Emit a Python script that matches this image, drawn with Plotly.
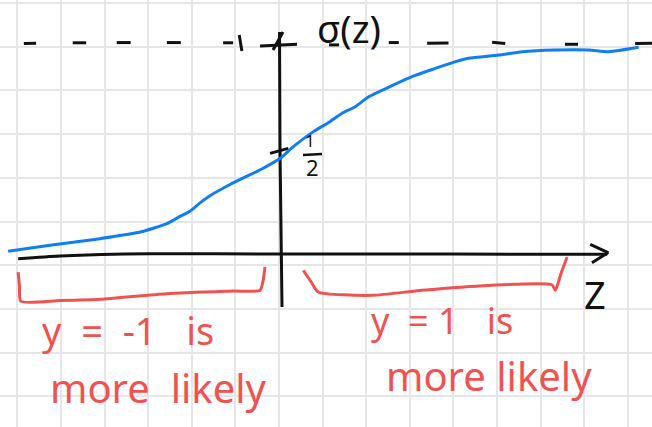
import plotly.graph_objects as go

# Sketch of the logistic function sigma(z); x in grid squares, y in sigma units
z_curve = [-6.21, -5.25, -4.10, -3.18, -2.57, -2.27, -2.04, -1.81, -1.58, -1.12,
           -0.36, 0.03, 0.33, 0.79, 1.17, 1.45, 1.75, 2.06, 2.52,
           3.05, 3.59, 4.05, 4.35, 5.04, 5.58, 6.34, 7.11, 7.56, 8.25]
sigma_curve = [0.015, 0.044, 0.075, 0.106, 0.146, 0.180, 0.205, 0.244, 0.278, 0.331,
               0.408, 0.455, 0.510, 0.581, 0.628, 0.668, 0.699, 0.746, 0.791,
               0.841, 0.880, 0.912, 0.928, 0.943, 0.959, 0.967, 0.967, 0.959, 0.980]

# Hand-drawn axes
z_axis_z = [-5.98, -5.02, -2.96, 0.00, 3.92, 7.53]
z_axis_s = [-0.020, -0.007, 0.004, 0.002, 0.002, 0.001]
z_arrow_z = [7.14, 7.55, 7.18]
z_arrow_s = [0.048, 0.009, -0.039]
s_axis_z = [0.014, 0.025, 0.071]
s_axis_s = [1.052, 0.494, -0.248]
s_arrow_z = [-0.433, 0.415, None, -0.135, 0.094]
s_arrow_s = [0.986, 0.994, None, 0.967, 1.052]
half_tick_z = [-0.204, 0.216]
half_tick_s = [0.478, 0.502]

# Asymptote sigma = 1 drawn as loose dashes
dash_z = [-5.85, -5.57, None, -4.73, -4.42, None, -3.72, -3.40, None, -2.57, -2.25, None,
          -1.28, -1.05, None, -0.91, -0.85, None, 1.15, 1.38, None, 2.52, 2.75, None,
          3.40, 3.89, None, 4.89, 5.19, None, 6.56, 6.86, None, 8.17, 8.56]
dash_s = [0.998, 0.999, None, 1.001, 1.001, None, 1.002, 1.002, None, 1.002, 1.002, None,
          1.001, 1.001, None, 1.038, 0.962, None, 0.991, 0.991, None, 1.002, 1.002, None,
          0.999, 1.000, None, 1.004, 0.998, None, 0.994, 0.994, None, 0.998, 0.999]

# Brackets under the z axis
left_br_z = [-5.98, -5.95, -5.92, -5.02, -4.10, -2.57, -1.05, -0.43, -0.36, -0.32]
left_br_s = [-0.083, -0.150, -0.221, -0.218, -0.212, -0.185, -0.173, -0.169, -0.120, -0.059]
right_br_z = [0.56, 0.74, 0.90, 2.14, 3.28, 4.81, 6.26, 6.34, 6.47, 6.61]
right_br_s = [-0.075, -0.130, -0.177, -0.193, -0.169, -0.146, -0.143, -0.169, -0.090, -0.012]

BLUE = "#0f7ef2"
RED = "#f05252"
INK = "#111111"
HAND = "Noto Sans"

fig = go.Figure()


def stroke(xs, ys, color, width=3, smooth=True):
    line = dict(color=color, width=width, shape="spline" if smooth else "linear")
    if smooth:
        line["smoothing"] = 0.6
    fig.add_trace(go.Scatter(
        x=xs, y=ys, mode="lines", hoverinfo="skip", showlegend=False,
        line=line, connectgaps=False,
    ))


stroke(z_axis_z, z_axis_s, INK)
stroke(z_arrow_z, z_arrow_s, INK, smooth=False)
stroke(s_axis_z, s_axis_s, INK)
stroke(s_arrow_z, s_arrow_s, INK, smooth=False)
stroke(half_tick_z, half_tick_s, INK, smooth=False)
stroke(dash_z, dash_s, INK, smooth=False)
stroke(left_br_z, left_br_s, RED)
stroke(right_br_z, right_br_s, RED)
stroke(z_curve, sigma_curve, BLUE)
stroke([0.553, 0.989], [0.470, 0.475], INK, width=2.5, smooth=False)


def note(x, y, text, color, size, xanchor="center"):
    fig.add_annotation(x=x, y=y, text=text, showarrow=False, xanchor=xanchor,
                       yanchor="middle", font=dict(family=HAND, size=size, color=color))


note(1.61, 1.071, "σ(z)", INK, 38)
note(0.72, 0.540, "1", INK, 17)
note(0.77, 0.415, "2", INK, 22)
note(7.25, -0.187, "Z", INK, 38)
note(-5.48, -0.357, "y  =  -1   is", RED, 38, xanchor="left")
note(-5.30, -0.631, "more  likely", RED, 40, xanchor="left")
note(2.06, -0.314, "y  = 1   is", RED, 36, xanchor="left")
note(2.40, -0.570, "more likely", RED, 40, xanchor="left")

grid = dict(showticklabels=False, ticks="", zeroline=False, showline=False,
            gridcolor="#e6e6e6", gridwidth=2, fixedrange=True)
fig.update_xaxes(range=[-6.397, 8.557], tick0=-6, dtick=1, **grid)
fig.update_yaxes(range=[-0.8156, 1.2033], tick0=1.1891, dtick=0.20671, **grid)
fig.update_layout(width=652, height=427, margin=dict(l=0, r=0, t=0, b=0),
                  plot_bgcolor="white", paper_bgcolor="white")

fig.write_html("out.html")
